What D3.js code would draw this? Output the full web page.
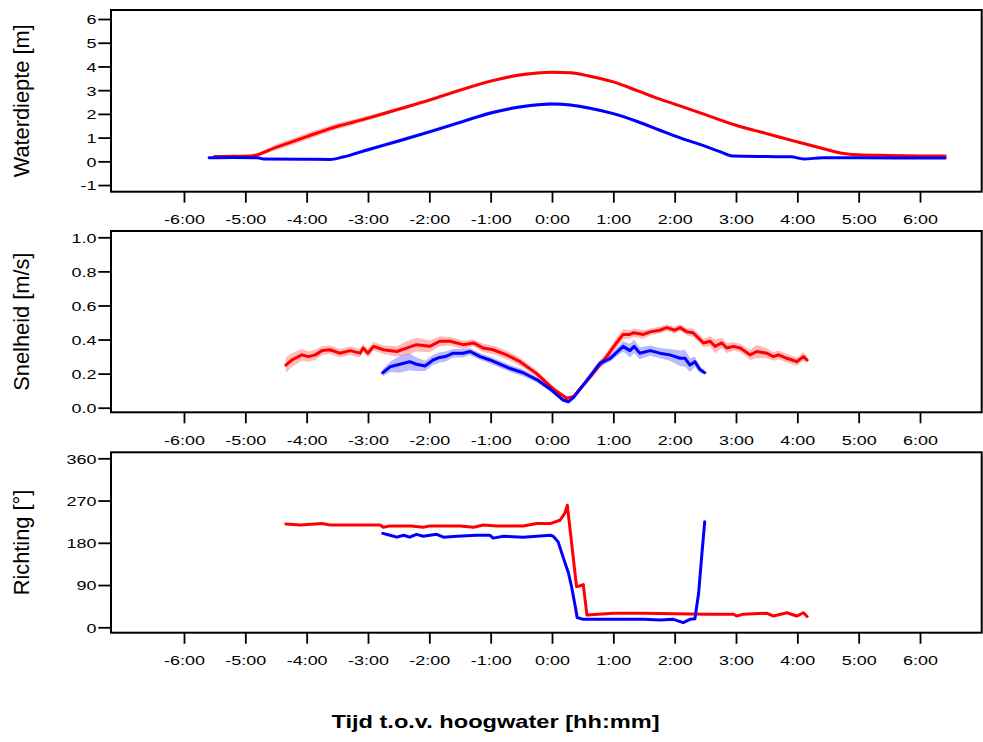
<!DOCTYPE html>
<html>
<head>
<meta charset="utf-8">
<script src="https://cdn.jsdelivr.net/npm/d3@7"></script>
<style>
  html, body { margin: 0; padding: 0; background: #ffffff; }
  svg { display: block; font-family: "Liberation Sans", Arial, sans-serif; }
</style>
</head>
<body>
<svg id="chart" width="983" height="742"></svg>
<script>
// ---- data: [hours relative to high water, value, band half-width] ----
const depthRed = [
  [-5.50,0.20,0.03],[-5.20,0.21,0.03],[-4.92,0.22,0.05],[-4.50,0.59,0.12],[-4.00,1.04,0.14],
  [-3.62,1.38,0.13],[-3.00,1.82,0.10],[-2.50,2.20,0.08],[-2.00,2.58,0.08],[-1.50,3.00,0.08],
  [-1.00,3.38,0.07],[-0.50,3.65,0.07],[0.00,3.76,0.06],[0.30,3.73,0.06],[0.60,3.60,0.06],
  [1.00,3.35,0.06],[1.40,2.97,0.06],[1.76,2.62,0.06],[2.00,2.41,0.06],[2.50,1.97,0.06],
  [3.00,1.52,0.06],[3.50,1.17,0.06],[4.00,0.82,0.06],[4.40,0.55,0.05],[4.75,0.33,0.04],
  [5.00,0.28,0.03],[5.50,0.25,0.03],[6.00,0.23,0.03],[6.41,0.22,0.03]
];
const depthBlue = [
  [-5.59,0.15,0.03],[-5.20,0.16,0.03],[-4.80,0.15,0.03],[-4.70,0.10,0.03],[-4.00,0.09,0.03],
  [-3.62,0.08,0.03],[-3.41,0.18,0.05],[-3.00,0.49,0.07],[-2.50,0.86,0.08],[-2.00,1.24,0.08],
  [-1.50,1.64,0.08],[-1.00,2.04,0.08],[-0.50,2.30,0.07],[0.00,2.42,0.07],[0.30,2.38,0.06],
  [0.60,2.25,0.06],[1.00,2.01,0.06],[1.40,1.67,0.06],[1.76,1.31,0.06],[2.10,0.98,0.06],
  [2.47,0.66,0.05],[2.75,0.40,0.04],[2.96,0.22,0.03],[3.50,0.20,0.03],[3.90,0.19,0.03],
  [4.10,0.10,0.03],[4.42,0.15,0.03],[5.00,0.15,0.03],[6.00,0.14,0.03],[6.41,0.14,0.03]
];
const speedRed = [
  [-4.34,0.25,0.045],[-4.24,0.28,0.04],[-4.08,0.31,0.035],[-3.97,0.30,0.03],[-3.86,0.31,0.03],
  [-3.75,0.335,0.025],[-3.62,0.34,0.025],[-3.46,0.32,0.025],[-3.29,0.335,0.025],[-3.13,0.32,0.025],
  [-3.08,0.35,0.025],[-3.00,0.32,0.025],[-2.91,0.36,0.025],[-2.75,0.34,0.025],[-2.53,0.33,0.03],
  [-2.37,0.35,0.04],[-2.21,0.37,0.04],[-1.99,0.36,0.035],[-1.83,0.39,0.03],[-1.66,0.39,0.025],
  [-1.45,0.37,0.025],[-1.28,0.38,0.02],[-1.12,0.35,0.025],[-0.96,0.34,0.025],[-0.74,0.31,0.025],
  [-0.52,0.27,0.025],[-0.25,0.20,0.02],[0.02,0.11,0.015],[0.24,0.055,0.01],[0.35,0.065,0.01],
  [0.62,0.18,0.02],[0.89,0.30,0.025],[1.05,0.38,0.03],[1.16,0.43,0.03],[1.27,0.43,0.025],
  [1.33,0.44,0.025],[1.49,0.43,0.025],[1.60,0.445,0.02],[1.76,0.455,0.02],[1.87,0.47,0.02],
  [2.00,0.455,0.02],[2.09,0.47,0.02],[2.20,0.445,0.02],[2.30,0.44,0.025],[2.47,0.38,0.025],
  [2.58,0.39,0.03],[2.66,0.36,0.04],[2.77,0.38,0.03],[2.85,0.35,0.03],[2.96,0.36,0.025],
  [3.07,0.35,0.025],[3.23,0.31,0.03],[3.34,0.33,0.04],[3.50,0.32,0.03],[3.61,0.30,0.025],
  [3.69,0.31,0.025],[3.83,0.29,0.025],[3.99,0.27,0.025],[4.10,0.30,0.025],[4.16,0.28,0.02]
];
const speedBlue = [
  [-2.76,0.205,0.02],[-2.64,0.24,0.03],[-2.48,0.255,0.05],[-2.32,0.27,0.05],[-2.21,0.255,0.04],
  [-2.07,0.245,0.03],[-1.94,0.28,0.03],[-1.83,0.295,0.03],[-1.74,0.30,0.03],[-1.61,0.32,0.025],
  [-1.45,0.32,0.025],[-1.34,0.33,0.02],[-1.17,0.30,0.02],[-1.01,0.28,0.02],[-0.85,0.255,0.02],
  [-0.68,0.23,0.02],[-0.47,0.205,0.02],[-0.25,0.165,0.015],[-0.03,0.11,0.015],[0.18,0.045,0.01],
  [0.27,0.035,0.01],[0.35,0.06,0.01],[0.57,0.16,0.015],[0.78,0.26,0.02],[0.95,0.29,0.02],
  [1.16,0.36,0.03],[1.27,0.335,0.04],[1.34,0.36,0.04],[1.43,0.32,0.035],[1.60,0.335,0.03],
  [1.76,0.32,0.03],[1.92,0.31,0.035],[2.09,0.29,0.045],[2.17,0.29,0.05],[2.25,0.25,0.04],
  [2.33,0.27,0.03],[2.41,0.225,0.02],[2.49,0.205,0.01]
];
const dirRed = [
  [-4.34,220],[-4.10,218],[-3.75,221],[-3.62,218],[-3.20,218],[-2.80,218],[-2.75,213],[-2.64,216],
  [-2.30,216],[-2.10,213],[-1.99,216],[-1.50,216],[-1.28,213],[-1.12,218],[-0.90,216],[-0.47,216],
  [-0.25,221],[-0.03,221],[0.13,228],[0.21,243],[0.25,260],[0.40,87],[0.45,88],[0.51,91],
  [0.57,26],[1.00,30],[1.50,30],[2.00,29],[2.50,28],[2.96,28],[3.01,24],[3.12,28],[3.50,30],
  [3.61,24],[3.83,31],[3.99,24],[4.10,31],[4.16,23]
];
const dirBlue = [
  [-2.76,200],[-2.64,196],[-2.53,192],[-2.42,196],[-2.32,192],[-2.21,198],[-2.10,194],[-1.99,196],
  [-1.88,198],[-1.77,192],[-1.55,194],[-1.23,196],[-1.01,196],[-0.96,190],[-0.79,194],[-0.47,192],
  [-0.25,194],[-0.03,196],[0.02,194],[0.10,182],[0.18,150],[0.27,115],[0.32,86],[0.38,44],
  [0.41,21],[0.51,17],[1.00,17],[1.50,17],[1.76,15.5],[1.98,17],[2.14,10],[2.25,17],[2.33,18],
  [2.39,72],[2.44,150],[2.49,225]
];

// ---- axes ----
const xTicks = [-6,-5,-4,-3,-2,-1,0,1,2,3,4,5,6];
const xTickLabels = ["-6:00","-5:00","-4:00","-3:00","-2:00","-1:00","0:00","1:00","2:00","3:00","4:00","5:00","6:00"];
const depthTicks = [-1,0,1,2,3,4,5,6];
const depthTickLabels = ["-1","0","1","2","3","4","5","6"];
const speedTicks = [0,0.2,0.4,0.6,0.8,1.0];
const speedTickLabels = ["0.0","0.2","0.4","0.6","0.8","1.0"];
const dirTicks = [0,90,180,270,360];
const dirTickLabels = ["0","90","180","270","360"];
const panelTitles = ["Waterdiepte [m]","Snelheid [m/s]","Richting [\u00B0]"];
const xTitle = "Tijd t.o.v. hoogwater [hh:mm]";

const RED = "#ff0000", BLUE = "#0000ff";
const TXT_SX = 1.33;          // horizontal stretch of the label glyphs
const left = 111, right = 981.7;

const svg = d3.select("#chart");
const x = d3.scaleLinear().domain([-7.19, 7.006]).range([left, right]);

const panels = [
  { top: 10,    bottom: 191.7, domain: [-1.28, 6.38],   ticks: depthTicks, labels: depthTickLabels,
    series: [[depthRed, RED], [depthBlue, BLUE]], band: true, curve: d3.curveMonotoneX },
  { top: 231,   bottom: 412.3, domain: [-0.027, 1.037], ticks: speedTicks, labels: speedTickLabels,
    series: [[speedRed, RED], [speedBlue, BLUE]], band: true, curve: d3.curveLinear },
  { top: 452.3, bottom: 632.7, domain: [-11.5, 372.8],  ticks: dirTicks, labels: dirTickLabels,
    series: [[dirRed, RED], [dirBlue, BLUE]], band: false, curve: d3.curveLinear }
];

panels.forEach((p, i) => {
  const y = d3.scaleLinear().domain(p.domain).range([p.bottom, p.top]);
  const g = svg.append("g");

  const clipId = "clip" + i;
  svg.append("clipPath").attr("id", clipId).append("rect")
    .attr("x", left).attr("y", p.top).attr("width", right - left).attr("height", p.bottom - p.top);
  const plot = g.append("g").attr("clip-path", `url(#${clipId})`);

  // uncertainty bands first, then the lines on top
  if (p.band) {
    p.series.forEach(([data, col]) => {
      plot.append("path").datum(data)
        .attr("fill", col).attr("fill-opacity", 0.27).attr("stroke", "none")
        .attr("d", d3.area().curve(p.curve)
          .x(d => x(d[0])).y0(d => y(d[1] - d[2])).y1(d => y(d[1] + d[2])));
    });
  }
  p.series.forEach(([data, col]) => {
    plot.append("path").datum(data)
      .attr("fill", "none").attr("stroke", col).attr("stroke-width", 3)
      .attr("stroke-linejoin", "round").attr("stroke-linecap", "round")
      .attr("d", d3.line().curve(p.curve).x(d => x(d[0])).y(d => y(d[1])));
  });

  // bottom axis
  const xa = g.append("g").attr("transform", `translate(0,${p.bottom})`)
    .call(d3.axisBottom(x).tickValues(xTicks).tickSize(11)
      .tickFormat((d, k) => xTickLabels[k]));
  xa.select(".domain").remove();
  xa.selectAll(".tick line").attr("stroke", "#000").attr("stroke-width", 1.8);
  xa.selectAll(".tick text")
    .attr("y", 32.5).attr("dy", null)
    .attr("transform", `scale(${TXT_SX},1)`)
    .attr("font-size", 13.5).attr("fill", "#000");

  // left axis
  const ya = g.append("g").attr("transform", `translate(${left},0)`)
    .call(d3.axisLeft(y).tickValues(p.ticks).tickSize(12.7)
      .tickFormat((d, k) => p.labels[k]));
  ya.select(".domain").remove();
  ya.selectAll(".tick line").attr("stroke", "#000").attr("stroke-width", 1.8);
  ya.selectAll(".tick text")
    .attr("x", -14.5 / TXT_SX).attr("dy", "0.36em")
    .attr("transform", `scale(${TXT_SX},1)`)
    .attr("font-size", 13.5).attr("fill", "#000");

  // frame
  g.append("rect").attr("x", left).attr("y", p.top)
    .attr("width", right - left).attr("height", p.bottom - p.top)
    .attr("fill", "none").attr("stroke", "#000").attr("stroke-width", 2);

  // panel title
  const cy = (p.top + p.bottom) / 2;
  svg.append("text")
    .attr("transform", `translate(28.8,${cy}) rotate(-90)`)
    .attr("text-anchor", "middle").attr("font-size", 21.8).attr("fill", "#000")
    .text(panelTitles[i]);
});

svg.append("text")
  .attr("transform", `translate(495.5,727.5) scale(1.35,1)`)
  .attr("text-anchor", "middle").attr("font-size", 17.5).attr("font-weight", "bold")
  .attr("fill", "#000")
  .text(xTitle);
</script>
</body>
</html>
